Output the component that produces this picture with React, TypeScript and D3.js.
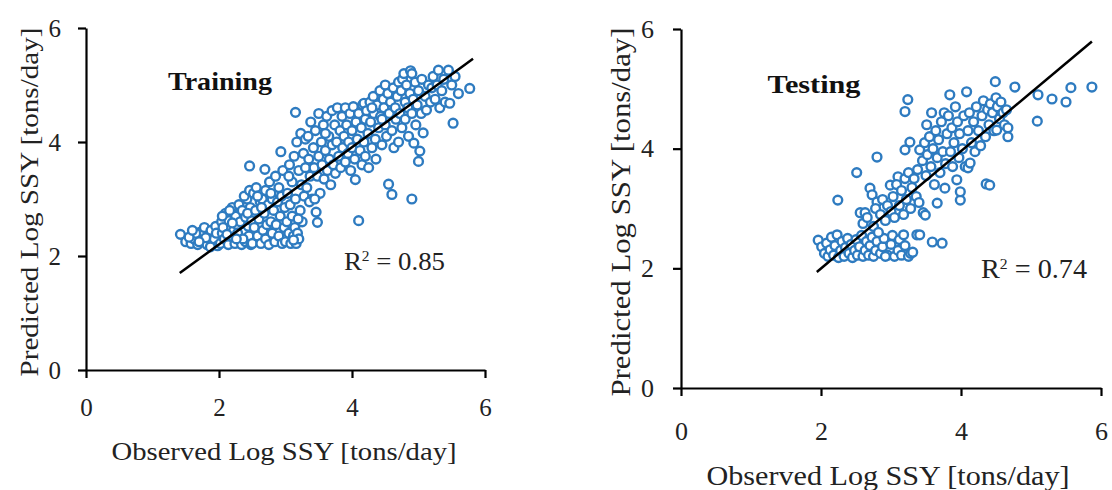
import React, { useEffect, useRef } from 'react';
import * as d3 from 'd3';

// axis ticks shared by both panels
const tickValues = [0, 2, 4, 6];
const xTitle = 'Observed Log SSY [tons/day]';
const yTitle = 'Predicted Log SSY [tons/day]';
const panelNames = ['Training', 'Testing'];
const r2Values = ['0.85', '0.74'];

// observed, predicted
const trainingPoints: [number, number][] = [
  [1.42,2.38],[1.5,2.25],[1.58,2.22],[1.62,2.3],[1.68,2.2],[1.72,2.42],[1.75,2.28],[1.78,2.5],[1.82,2.2],[1.85,2.35],
  [1.88,2.45],[1.9,2.24],[1.93,2.3],[1.95,2.52],[1.98,2.18],[1.65,2.4],[1.8,2.32],[1.7,2.25],[1.87,2.16],[1.96,2.4],
  [1.55,2.33],[1.6,2.45],
  [2.02,2.22],[2.04,2.6],[2.05,2.4],[2.08,2.3],[2.1,2.75],[2.12,2.5],[2.14,2.2],[2.15,2.62],[2.18,2.35],[2.2,2.85],
  [2.22,2.45],[2.24,2.22],[2.25,2.7],[2.27,2.55],[2.3,2.3],[2.3,2.9],[2.32,2.6],[2.34,2.2],[2.35,2.8],[2.38,2.42],
  [2.4,2.68],[2.4,2.25],[2.42,3.0],[2.44,2.52],[2.45,2.35],[2.47,2.85],[2.48,2.2],[2.49,2.62],[2.06,2.5],[2.16,2.8],
  [2.28,2.4],[2.36,2.3],[2.43,2.75],[2.12,2.38],[2.2,2.58],[2.26,2.3],[2.38,3.05],[2.46,3.15],[2.05,2.7],
  [2.5,2.22],[2.52,3.1],[2.53,2.5],[2.55,2.8],[2.56,3.2],[2.58,2.35],[2.6,2.65],[2.62,2.95],[2.63,2.22],[2.65,3.0],
  [2.66,2.45],[2.68,2.75],[2.7,2.3],[2.7,3.15],[2.72,2.55],[2.74,2.9],[2.75,2.2],[2.76,3.3],[2.78,2.6],[2.8,2.4],
  [2.8,3.0],[2.82,2.8],[2.84,2.25],[2.85,3.4],[2.86,2.55],[2.88,2.95],[2.9,2.35],[2.9,3.2],[2.92,2.7],[2.94,3.05],
  [2.95,2.22],[2.96,3.5],[2.98,2.5],[2.99,2.85],[2.46,3.58],[2.69,3.52],[2.93,3.83],[2.58,3.05],[2.64,2.85],[2.78,3.1],
  [3.0,2.25],[3.02,2.6],[3.03,3.1],[3.05,2.4],[3.06,3.6],[3.07,2.9],[3.08,2.22],[3.1,3.3],[3.1,2.7],[3.12,2.35],
  [3.13,3.75],[3.14,2.5],[3.15,3.0],[3.16,2.22],[3.17,4.0],[3.18,2.4],[3.2,3.5],[3.2,2.3],[3.22,2.8],[3.23,4.15],
  [3.24,3.25],[3.25,2.6],[3.27,3.8],[3.28,3.05],[3.3,3.55],[3.3,4.05],[3.15,4.52],[3.05,3.4],[3.12,2.28],[3.19,2.65],
  [3.32,3.2],[3.34,4.1],[3.35,3.7],[3.37,3.4],[3.38,4.35],[3.4,3.0],[3.42,3.9],[3.43,3.55],[3.45,4.2],[3.46,2.77],
  [3.48,2.59],[3.48,3.4],[3.5,3.75],[3.5,4.5],[3.52,3.1],[3.54,4.0],[3.55,3.6],[3.57,4.3],[3.58,3.35],[3.6,3.85],
  [3.62,4.45],[3.63,3.5],[3.65,4.1],[3.66,3.7],[3.68,3.25],[3.7,4.55],[3.7,3.95],[3.36,2.95],[3.44,3.0],[3.6,4.15],
  [3.72,3.6],[3.74,4.3],[3.75,3.45],[3.77,4.0],[3.78,4.6],[3.8,3.75],[3.82,4.2],[3.83,3.55],[3.85,4.45],[3.86,3.9],
  [3.88,4.1],[3.9,3.65],[3.9,4.6],[3.92,4.3],[3.94,3.8],[3.95,4.0],[3.97,4.5],[3.98,3.5],[4.0,4.2],[4.0,3.9],
  [4.02,4.62],[4.04,3.7],[4.05,3.34],[4.06,4.35],[4.08,4.05],[4.1,2.62],[4.1,4.5],[4.12,3.85],[4.14,4.25],[4.15,3.6],
  [4.16,4.65],[4.18,4.68],[4.18,4.0],[4.2,4.4],[4.2,3.75],
  [4.22,4.55],[4.24,4.15],[4.25,3.55],[4.27,4.7],[4.28,4.35],[4.3,3.9],[4.32,4.8],[4.33,4.5],[4.35,4.05],[4.36,3.7],
  [4.38,4.65],[4.4,4.25],[4.42,4.9],[4.43,4.45],[4.45,3.95],[4.47,4.75],[4.48,4.6],[4.5,4.3],[4.5,5.0],[4.52,4.1],
  [4.54,4.85],[4.55,3.26],[4.56,4.5],[4.58,4.7],[4.6,3.08],[4.6,4.2],[4.62,4.95],[4.63,3.9],[4.65,4.6],[4.66,4.4],
  [4.68,4.8],[4.7,5.05],[4.7,4.0],[4.3,4.6],[4.45,4.4],
  [4.72,4.5],[4.74,4.9],[4.75,4.25],[4.76,5.1],[4.78,5.2],[4.8,4.7],[4.8,4.4],[4.82,5.0],[4.84,4.6],[4.85,4.1],
  [4.87,4.85],[4.88,5.25],[4.9,5.2],[4.9,4.5],[4.9,3.0],[4.92,4.75],[4.93,3.98],[4.95,5.05],[4.96,4.3],[4.98,4.65],
  [5.0,4.9],[5.0,3.66],[5.02,3.84],[5.04,4.5],[5.05,5.1],[5.07,4.16],[5.1,4.8],[5.12,4.56],[5.15,5.0],[5.18,4.7],
  [5.2,4.95],
  [5.22,5.15],[5.25,4.75],[5.28,5.0],[5.3,5.26],[5.32,4.6],[5.35,4.9],[5.38,5.1],[5.4,4.7],[5.45,5.26],[5.47,4.68],
  [5.5,5.0],[5.52,4.33],[5.55,5.15],[5.6,4.85],[5.77,4.94],
];

const testingPoints: [number, number][] = [
  [1.96,2.47],[2.01,2.36],[2.05,2.25],[2.08,2.42],[2.1,2.2],[2.13,2.31],[2.15,2.52],[2.18,2.22],[2.2,2.38],[2.23,2.56],
  [2.25,2.18],[2.28,2.3],[2.3,2.45],[2.33,2.2],[2.35,2.35],[2.38,2.5],[2.4,2.25],[2.43,2.4],[2.45,2.18],[2.48,2.3],
  [2.5,2.48],[2.52,2.22],[2.55,2.36],[2.58,2.55],[2.6,2.2],[2.63,2.3],[2.65,2.45],[2.68,2.22],[2.7,2.38],[2.73,2.52],
  [2.75,2.2],[2.78,2.3],[2.8,2.45],[2.85,2.25],[2.88,2.36],[2.9,2.5],[2.95,2.22],[3.0,2.4],[3.02,2.55],[3.05,2.2],
  [3.1,2.3],[3.12,2.48],[3.15,2.22],[3.2,2.38],[3.25,2.2],[3.28,2.25],[3.31,2.27],[3.37,2.56],[3.41,2.56],[3.59,2.44],
  [3.73,2.42],[3.18,2.56],[2.92,2.2],
  [2.24,3.14],[2.51,3.6],[2.56,2.93],[2.63,2.93],[2.7,3.34],[2.73,3.23],[2.8,3.11],[2.99,3.39],[3.1,3.53],[2.6,2.75],
  [2.66,2.85],[2.75,2.7],[2.78,3.0],[2.85,2.9],[2.88,3.15],[2.92,2.8],[2.95,3.05],[3.0,2.95],[3.03,3.2],[3.05,2.85],
  [3.08,3.4],[3.12,3.05],[3.15,3.3],[3.18,2.9],[3.2,3.5],[3.22,3.15],[3.25,3.6],[3.28,3.0],[3.3,3.35],[3.33,3.5],
  [3.36,3.2],[3.38,3.65],[2.8,3.86],[2.82,2.6],[3.46,2.93],[3.49,2.89],[3.4,3.1],
  [3.2,3.98],[3.24,4.82],[3.2,4.62],[3.27,4.11],[3.41,3.98],[3.51,4.4],[3.45,3.8],[3.48,4.1],[3.5,3.55],[3.52,3.9],
  [3.55,4.2],[3.57,3.7],[3.6,4.0],[3.62,3.4],[3.64,4.3],[3.66,3.09],[3.66,3.85],[3.68,4.15],[3.7,3.6],[3.72,4.45],
  [3.74,3.95],[3.77,3.34],[3.76,4.6],[3.78,3.75],[3.8,4.25],[3.82,4.55],[3.84,4.9],[3.85,3.95],[3.87,4.35],[3.88,3.7],
  [3.9,4.1],[3.92,4.7],[3.94,3.48],[3.95,4.45],[3.97,3.85],[3.99,3.14],[3.99,3.28],[3.98,4.25],[3.58,4.6],
  [4.02,4.0],[4.04,4.55],[4.06,3.7],[4.08,4.95],[4.1,3.68],[4.1,4.3],[4.13,3.76],[4.12,4.6],[4.15,4.1],[4.18,4.45],
  [4.2,3.95],[4.22,4.7],[4.25,4.3],[4.28,4.05],[4.3,4.55],[4.32,4.8],[4.35,4.2],[4.36,3.41],[4.38,4.65],[4.41,3.39],
  [4.4,4.4],[4.42,4.75],[4.45,4.6],[4.47,4.3],[4.49,5.12],[4.5,4.85],[4.51,4.31],[4.52,4.7],[4.55,4.5],[4.57,4.78],
  [4.6,4.6],[4.62,4.4],[4.67,4.2],[4.67,4.35],[4.65,4.65],[4.77,5.03],
  [5.09,4.46],[5.1,4.9],[5.3,4.83],[5.5,4.78],[5.57,5.02],[5.87,5.03],
];

// end points of the fitted lines
const trainingFit: [number, number][] = [[1.41, 1.7], [5.82, 5.46]];
const testingFit: [number, number][] = [[1.94, 1.94], [5.87, 5.79]];

const blue = '#2E7BC0';
const serif = '"Liberation Serif", "Times New Roman", serif';

type Layout = {
  x0: number; x1: number; y0: number; y1: number;
  font: number; xPad: number; yPad: number;
  xTitleX: number; xTitleY: number; xTitleW: number;
  yTitleX: number; yTitleY: number; yTitleW: number;
  nameX: number; nameY: number; nameW: number;
  r2X: number; r2Y: number; r2W: number;
};

const layouts: Layout[] = [
  { x0: 86, x1: 485, y0: 370, y1: 28, font: 25, xPad: 20, yPad: 17,
    xTitleX: 284, xTitleY: 460, xTitleW: 345,
    yTitleX: 38, yTitleY: 202, yTitleW: 349,
    nameX: 220, nameY: 90, nameW: 104,
    r2X: 344, r2Y: 270, r2W: 101 },
  { x0: 681, x1: 1101, y0: 388, y1: 29, font: 26, xPad: 26, yPad: 19,
    xTitleX: 888, xTitleY: 485, xTitleW: 363,
    yTitleX: 630, yTitleY: 212, yTitleW: 369,
    nameX: 814, nameY: 93, nameW: 93,
    r2X: 981, r2Y: 278, r2W: 106 },
];

function Panel({ points, fit, name, r2, L }: { points: [number, number][]; fit: [number, number][]; name: string; r2: string; L: Layout }) {
  const xAxisRef = useRef<SVGGElement>(null);
  const yAxisRef = useRef<SVGGElement>(null);

  const x = d3.scaleLinear().domain([0, 6]).range([L.x0, L.x1]);
  const y = d3.scaleLinear().domain([0, 6]).range([L.y0, L.y1]);

  useEffect(() => {
    const gx = d3.select(xAxisRef.current!);
    gx.call(d3.axisBottom(x).tickValues(tickValues).tickSize(8).tickSizeOuter(0).tickPadding(L.xPad).tickFormat(d3.format('d')));
    const gy = d3.select(yAxisRef.current!);
    gy.call(d3.axisLeft(y).tickValues(tickValues).tickSize(8).tickSizeOuter(0).tickPadding(L.yPad).tickFormat(d3.format('d')));

    [gx, gy].forEach(g => {
      g.attr('font-family', serif).attr('font-size', L.font);
      g.selectAll('path, line').attr('stroke', '#000').attr('stroke-width', 2.2);
      g.selectAll('text').attr('fill', '#222');
    });
  }, []);

  const line = d3.line<[number, number]>().x(d => x(d[0])).y(d => y(d[1]));

  return (
    <g>
      <g ref={xAxisRef} transform={`translate(0,${L.y0})`} />
      <g ref={yAxisRef} transform={`translate(${L.x0},0)`} />
      {points.map((d, i) => (
        <circle key={i} cx={x(d[0])} cy={y(d[1])} r={4.4} fill="#fff" stroke={blue} strokeWidth={2.4} />
      ))}
      <path d={line(fit) ?? ''} stroke="#000" strokeWidth={2.5} fill="none" />
      <text x={L.nameX} y={L.nameY} textAnchor="middle" fontFamily={serif} fontWeight="bold" fontSize={25}
        textLength={L.nameW} lengthAdjust="spacingAndGlyphs" fill="#111">{name}</text>
      <text x={L.r2X} y={L.r2Y} fontFamily={serif} fontSize={L.font + 1} fill="#222"
        textLength={L.r2W} lengthAdjust="spacingAndGlyphs">
        R<tspan fontSize={15} dy={-9}>2</tspan><tspan dy={9}>{` = ${r2}`}</tspan>
      </text>
      <text x={L.xTitleX} y={L.xTitleY} textAnchor="middle" fontFamily={serif} fontSize={L.font + 1} fill="#222"
        textLength={L.xTitleW} lengthAdjust="spacingAndGlyphs">{xTitle}</text>
      <text transform={`translate(${L.yTitleX},${L.yTitleY}) rotate(-90)`} textAnchor="middle" fontFamily={serif}
        fontSize={L.font + 1} fill="#222" textLength={L.yTitleW} lengthAdjust="spacingAndGlyphs">{yTitle}</text>
    </g>
  );
}

export default function App() {
  return (
    <svg width={1112} height={490} style={{ position: 'absolute', left: 0, top: 0, background: '#fff' }}>
      <Panel points={trainingPoints} fit={trainingFit} name={panelNames[0]} r2={r2Values[0]} L={layouts[0]} />
      <Panel points={testingPoints} fit={testingFit} name={panelNames[1]} r2={r2Values[1]} L={layouts[1]} />
    </svg>
  );
}
